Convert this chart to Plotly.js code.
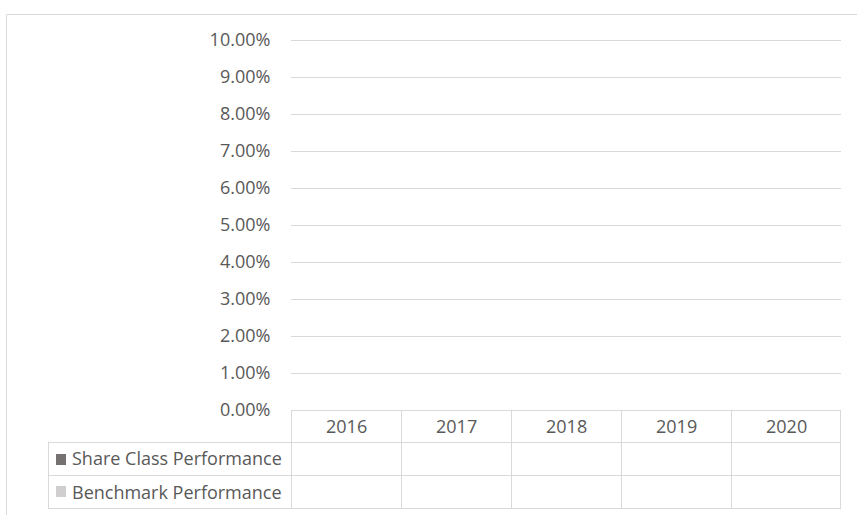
<!DOCTYPE html>
<html>
<head>
<meta charset="utf-8">
<script src="https://cdn.plot.ly/plotly-3.0.1.min.js"></script>
<style>html,body{margin:0;padding:0;background:#fff;}#chart{width:857px;height:515px;}</style>
</head>
<body>
<div id="chart"></div>
<script>
// ---- data ----
const categories = ['2016', '2017', '2018', '2019', '2020'];
const seriesNames = ['Share Class Performance', 'Benchmark Performance'];
const shareClassPerformance = [null, null, null, null, null];
const benchmarkPerformance = [null, null, null, null, null];
const seriesColors = ['#767171', '#d0cece'];
const yRange = [0, 0.1];

// ---- layout helpers ----
const W = 857, H = 515;
const mL = 291, mR = 16, mT = 40, mB = 105;
const plotW = W - mL - mR, plotH = H - mT - mB;
const px = x => (x - mL) / plotW;            // pixel x -> paper x
const py = y => (H - mB - y) / plotH;        // pixel y -> paper y
const colW = plotW / categories.length;
const half = 0.5;                             // half-pixel offset for crisp 1px lines

const gridColor = '#d9d9d9';
const textColor = '#595959';
const fontFam = '"Open Sans", "Noto Sans", sans-serif';
const fontSize = 18;

const traces = [
  {type: 'bar', name: seriesNames[0], x: categories, y: shareClassPerformance, marker: {color: seriesColors[0]}},
  {type: 'bar', name: seriesNames[1], x: categories, y: benchmarkPerformance, marker: {color: seriesColors[1]}}
];

const rowTop = 410, row1 = 442, row2 = 475, row3 = 508, labelLeft = 48;
const shapes = [];
const line = (o) => Object.assign({type: 'line', line: {color: gridColor, width: 1}, layer: 'above'}, o);

// outer chart border
shapes.push({type: 'rect', xref: 'paper', yref: 'paper', x0: px(6 + half), x1: px(870), y0: py(14 + half), y1: py(530),
  line: {color: gridColor, width: 1}, fillcolor: 'rgba(0,0,0,0)'});

// gridlines at the range edges (top and 0% baseline)
[mT, H - mB].forEach(yy => shapes.push(line({xref: 'paper', yref: 'paper', x0: 0, x1: 1, y0: py(yy + half), y1: py(yy + half)})));

// horizontal table lines
[row1, row2, row3].forEach(yy => shapes.push(line({xref: 'paper', yref: 'paper', x0: px(labelLeft), x1: 1, y0: py(yy + half), y1: py(yy + half)})));
// left edge of label column
shapes.push(line({xref: 'paper', yref: 'paper', x0: px(labelLeft + half), x1: px(labelLeft + half), y0: py(row1), y1: py(row3 + 1)}));
// column boundaries (category edges on the x axis)
for (let i = 0; i <= categories.length; i++) {
  const xv = i - 0.5 + (i === categories.length ? -half : half) / colW;
  shapes.push(line({xref: 'x', yref: 'paper', x0: xv, x1: xv, y0: py(rowTop), y1: py(row3 + 1)}));
}
// legend keys
const keyRows = [[454, 465], [486, 497]];
seriesColors.forEach((c, i) => shapes.push({type: 'rect', xref: 'paper', yref: 'paper',
  x0: px(56), x1: px(66), y0: py(keyRows[i][0]), y1: py(keyRows[i][1]), line: {width: 0}, fillcolor: c}));

const annotations = [];
categories.forEach((c, i) => annotations.push({xref: 'x', yref: 'paper', x: i, y: py((rowTop + row1) / 2),
  text: c, showarrow: false, xanchor: 'center', yanchor: 'middle', font: {family: fontFam, size: fontSize, color: textColor}}));
seriesNames.forEach((n, i) => annotations.push({xref: 'paper', yref: 'paper', x: px(70), y: py(i === 0 ? (row1 + row2) / 2 : (row2 + row3) / 2),
  text: n, showarrow: false, xanchor: 'left', yanchor: 'middle', font: {family: fontFam, size: fontSize, color: textColor}}));

const layout = {
  width: W, height: H,
  margin: {l: mL, r: mR, t: mT, b: mB, pad: 0},
  paper_bgcolor: '#ffffff', plot_bgcolor: '#ffffff',
  showlegend: false,
  font: {family: fontFam, size: fontSize, color: textColor},
  xaxis: {type: 'category', categoryarray: categories, range: [-0.5, categories.length - 0.5],
    showticklabels: false, showgrid: false, zeroline: false, showline: false, ticks: '', fixedrange: true},
  yaxis: {range: yRange, dtick: 0.01, tick0: 0, tickformat: '.2%', showgrid: true, gridcolor: gridColor, gridwidth: 1,
    zeroline: false, showline: false, ticks: 'outside', ticklen: 16, tickcolor: 'rgba(0,0,0,0)',
    tickfont: {family: fontFam, size: fontSize, color: textColor}, fixedrange: true},
  shapes: shapes,
  annotations: annotations,
  bargap: 0.5
};

Plotly.newPlot('chart', traces, layout, {displayModeBar: false, staticPlot: true});
</script>
</body>
</html>
